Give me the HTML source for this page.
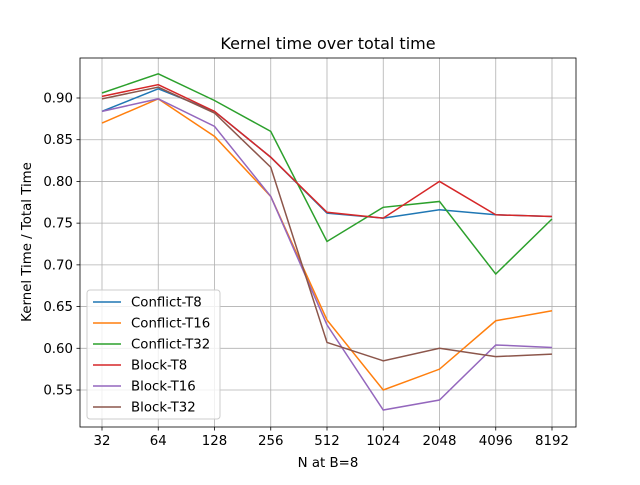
<!DOCTYPE html>
<html><head><meta charset="utf-8"><style>
body{margin:0;background:#fff;}
svg text{font-family:"DejaVu Sans","Liberation Sans",sans-serif;fill:#000;}
</style></head><body>
<svg id="chart" width="640" height="480" xmlns="http://www.w3.org/2000/svg">
<rect width="640" height="480" fill="#fff"/>
<g id="grid"></g>
<g id="series"></g>
<rect x="80" y="58" width="496" height="369" fill="none" stroke="#000" stroke-width="0.8"/>
<g id="ticks"></g>
<text x="328" y="49" font-size="16" text-anchor="middle">Kernel time over total time</text>
<text x="328" y="467" font-size="13.33" text-anchor="middle">N at B=8</text>
<text transform="translate(31,242) rotate(-90)" font-size="13.33" text-anchor="middle">Kernel Time / Total Time</text>
<g id="legend"></g>
</svg>
<script>
const categories = ["32","64","128","256","512","1024","2048","4096","8192"];
const seriesNames = ["Conflict-T8","Conflict-T16","Conflict-T32","Block-T8","Block-T16","Block-T32"];
const conflictT8 = [0.884,0.911,0.884,0.829,0.762,0.756,0.766,0.760,0.758];
const conflictT16 = [0.870,0.899,0.854,0.782,0.634,0.550,0.575,0.633,0.645];
const conflictT32 = [0.906,0.929,0.897,0.860,0.728,0.769,0.776,0.689,0.755];
const blockT8 = [0.902,0.916,0.884,0.829,0.763,0.756,0.800,0.760,0.758];
const blockT16 = [0.884,0.899,0.866,0.782,0.628,0.526,0.538,0.604,0.601];
const blockT32 = [0.899,0.913,0.882,0.817,0.607,0.585,0.600,0.590,0.593];
const yTicks = [0.55,0.60,0.65,0.70,0.75,0.80,0.85,0.90];
const colors = ["#1f77b4","#ff7f0e","#2ca02c","#d62728","#9467bd","#8c564b"];
const allSeries = [conflictT8,conflictT16,conflictT32,blockT8,blockT16,blockT32];
const NS="http://www.w3.org/2000/svg";
function xs(i){return 102+i*(450/(categories.length-1));}
function ys(v){return 98+(0.9-v)*834.3;}
function mk(tag,attrs,parent){const e=document.createElementNS(NS,tag);for(const k in attrs)e.setAttribute(k,attrs[k]);parent.appendChild(e);return e;}
const grid=document.getElementById('grid'),ticks=document.getElementById('ticks'),ser=document.getElementById('series'),leg=document.getElementById('legend');
categories.forEach((c,i)=>{
 const g=mk('line',{x1:xs(i),x2:xs(i),y1:58,y2:427,stroke:'#b0b0b0','stroke-width':0.8},grid);
 
 
 const t=mk('line',{x1:xs(i),x2:xs(i),y1:427,y2:430.5,stroke:'#000','stroke-width':0.8},ticks);
 
 
 const l=mk('text',{x:xs(i),y:445,'font-size':13.33,'text-anchor':'middle'},ticks);
 l.textContent=c;
 
 
});
yTicks.forEach(v=>{
 const g=mk('line',{x1:80,x2:576,y1:ys(v),y2:ys(v),stroke:'#b0b0b0','stroke-width':0.8},grid);
 
 
 const t=mk('line',{x1:76.5,x2:80,y1:ys(v),y2:ys(v),stroke:'#000','stroke-width':0.8},ticks);
 
 
 const l=mk('text',{x:73,y:ys(v)+4.5,'font-size':13.33,'text-anchor':'end'},ticks);
 l.textContent=v.toFixed(2);
 
 
});
allSeries.forEach((d,s)=>{
 const p=mk('polyline',{points:d.map((v,i)=>xs(i)+','+ys(v)).join(' '),fill:'none',stroke:colors[s],'stroke-width':1.5},ser);
 
 
});
const box=mk('rect',{x:87,y:290,width:133,height:129,rx:3,fill:'#fff','fill-opacity':0.8,stroke:'#ccc','stroke-width':1},leg);


seriesNames.forEach((n,s)=>{
 const y=302+s*21;
 const l=mk('line',{x1:93,x2:121,y1:y,y2:y,stroke:colors[s],'stroke-width':1.5},leg);
 
 
 const t=mk('text',{x:131,y:y+4.5,'font-size':13.33},leg);
 t.textContent=n;
 
 
});
</script>
</body></html>
